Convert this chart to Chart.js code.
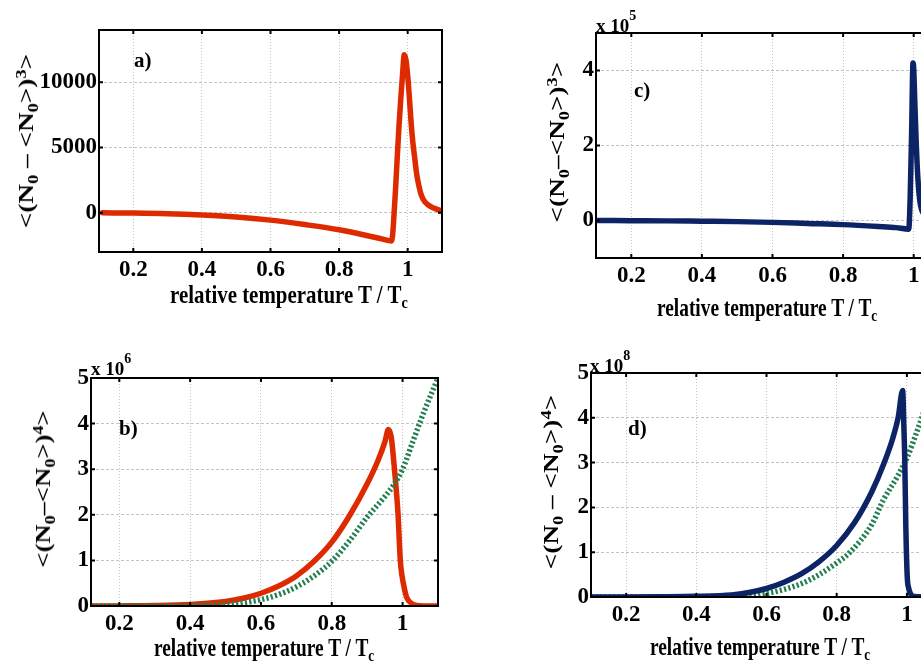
<!DOCTYPE html>
<html>
<head>
<meta charset="utf-8">
<script src="https://cdn.jsdelivr.net/npm/chart.js@4"></script>
<style>
  html, body { margin: 0; padding: 0; background: #fff; overflow: hidden; }
  #wrap { position: relative; width: 921px; height: 672px; overflow: hidden; }
  canvas { position: absolute; }
  .txt { position: absolute; font-family: "Liberation Serif", "Times New Roman", serif; font-weight: bold; color: #000; white-space: nowrap; line-height: 1; }
  .lbl { font-size: 21px; }
  .xt { font-size: 22px; transform-origin: 0 0; }
  .yt { font-size: 20px; }
  .ex { font-size: 19px; }
  .ex .sp { font-size: 14px; position: relative; top: -12px; }
  .sb { font-size: 0.68em; position: relative; top: 0.35em; }
  .su { font-size: 0.68em; position: relative; top: -0.55em; }
</style>
</head>
<body>
<div id="wrap">
  <canvas id="chartA" width="460" height="330" style="left:0;top:0"></canvas>
  <canvas id="chartC" width="500" height="330" style="left:460px;top:0"></canvas>
  <canvas id="chartB" width="460" height="342" style="left:0;top:330px"></canvas>
  <canvas id="chartD" width="500" height="342" style="left:460px;top:330px"></canvas>

  <div class="txt lbl" style="left:134px;top:50px">a)</div>
  <div class="txt lbl" style="left:634px;top:80px">c)</div>
  <div class="txt lbl" style="left:119px;top:418px">b)</div>
  <div class="txt lbl" style="left:628px;top:418px">d)</div>

  <div class="txt ex" style="left:596px;top:16px">x 10<span class="sp">5</span></div>
  <div class="txt ex" style="left:91px;top:359px">x 10<span class="sp">6</span></div>
  <div class="txt ex" style="left:590px;top:356px">x 10<span class="sp">8</span></div>

  <div class="txt xt" style="left:170px;top:283px;transform:scale(0.95,1.1)">relative temperature T / T<span class="sb">c</span></div>
  <div class="txt xt" style="left:657px;top:296px;transform:scale(0.88,1.1)">relative temperature T / T<span class="sb">c</span></div>
  <div class="txt xt" style="left:154px;top:636px;transform:scale(0.88,1.1)">relative temperature T / T<span class="sb">c</span></div>
  <div class="txt xt" style="left:650px;top:635px;transform:scale(0.88,1.1)">relative temperature T / T<span class="sb">c</span></div>

  <div class="txt yt" style="left:26px;top:141px;transform:translate(-50%,-50%) rotate(-90deg) scaleX(1.36)">&lt;(N<span class="sb">0</span> &ndash; &lt;N<span class="sb">0</span>&gt;)<span class="su">3</span>&gt;</div>
  <div class="txt yt" style="left:557px;top:142px;transform:translate(-50%,-50%) rotate(-90deg) scaleX(1.36)">&lt;(N<span class="sb">0</span>&ndash;&lt;N<span class="sb">0</span>&gt;)<span class="su">3</span>&gt;</div>
  <div class="txt yt" style="left:43px;top:489px;transform:translate(-50%,-50%) rotate(-90deg) scaleX(1.33)">&lt;(N<span class="sb">0</span>&ndash;&lt;N<span class="sb">0</span>&gt;)<span class="su">4</span>&gt;</div>
  <div class="txt yt" style="left:551px;top:482px;transform:translate(-50%,-50%) rotate(-90deg) scaleX(1.36)">&lt;(N<span class="sb">0</span> &ndash; &lt;N<span class="sb">0</span>&gt;)<span class="su">4</span>&gt;</div>
</div>

<script>
// a) third central moment, small trap
const tA = [0.11, 0.2, 0.3, 0.4, 0.5, 0.6, 0.7, 0.8, 0.9, 0.93, 0.945, 0.952, 0.956, 0.96, 0.965, 0.97, 0.975, 0.98, 0.985, 0.99, 0.995, 1.0, 1.005, 1.01, 1.015, 1.02, 1.025, 1.03, 1.035, 1.04, 1.045, 1.05, 1.06, 1.07, 1.08, 1.09, 1.1];
const cubeA = [0, -20, -70, -170, -320, -560, -900, -1300, -1850, -2030, -2130, -2150, -1700, -200, 2000, 4500, 6800, 8800, 10600, 12100, 11700, 10500, 8800, 6900, 5400, 4300, 3200, 2400, 1800, 1330, 1050, 850, 600, 440, 320, 230, 160];

// c) third central moment (x 10^5)
const tC = [0.1, 0.2, 0.3, 0.4, 0.5, 0.6, 0.7, 0.8, 0.9, 0.95, 0.986, 0.99, 0.994, 0.998, 1.0, 1.003, 1.007, 1.012, 1.017, 1.022, 1.03, 1.05, 1.1];
const cubeC = [0, -0.005, -0.01, -0.02, -0.03, -0.05, -0.08, -0.11, -0.16, -0.19, -0.23, 0.6, 2.3, 4.2, 4.05, 3.2, 2.1, 1.1, 0.55, 0.3, 0.15, 0.05, 0.01];

// b) fourth central moment (x 10^6)
const tB = [0.12, 0.2, 0.3, 0.4, 0.5, 0.55, 0.6, 0.65, 0.7, 0.75, 0.8, 0.85, 0.9, 0.93, 0.95, 0.96, 0.968, 0.977, 0.987, 0.9935, 0.998, 1.006, 1.012, 1.025, 1.04, 1.06, 1.1];
const quartB = [0, 0.002, 0.01, 0.035, 0.1, 0.17, 0.28, 0.44, 0.66, 0.98, 1.4, 1.98, 2.68, 3.18, 3.6, 3.87, 3.7, 3.0, 2.03, 1.0, 0.68, 0.35, 0.18, 0.06, 0.01, 0, 0];
const tBref = [0.12, 0.3, 0.4, 0.5, 0.55, 0.6, 0.65, 0.7, 0.75, 0.8, 0.85, 0.9, 0.95, 0.977, 1.0, 1.03, 1.06, 1.1];
const refB = [0, 0.001, 0.008, 0.035, 0.07, 0.14, 0.25, 0.42, 0.66, 0.98, 1.43, 1.95, 2.4, 2.68, 3.0, 3.63, 4.25, 5.0];

// d) fourth central moment (x 10^8)
const tD = [0.1, 0.2, 0.3, 0.4, 0.5, 0.55, 0.6, 0.65, 0.7, 0.75, 0.8, 0.85, 0.9, 0.933, 0.96, 0.975, 0.988, 0.991, 0.994, 0.997, 1.001, 1.005, 1.01, 1.02, 1.05, 1.1];
const quartD = [0, 0.001, 0.005, 0.015, 0.045, 0.1, 0.19, 0.33, 0.52, 0.79, 1.15, 1.65, 2.35, 2.95, 3.55, 4.0, 4.61, 3.9, 3.05, 1.56, 0.45, 0.2, 0.08, 0.01, 0, 0];
const tDref = [0.1, 0.3, 0.4, 0.5, 0.55, 0.6, 0.65, 0.7, 0.75, 0.8, 0.838, 0.9, 0.9325, 0.97, 1.0, 1.028, 1.06, 1.1];
const refD = [0, 0.001, 0.006, 0.025, 0.045, 0.08, 0.17, 0.3, 0.5, 0.76, 1.0, 1.62, 2.16, 2.65, 3.1, 3.68, 4.4, 5.3];

const xTicks = [0.2, 0.4, 0.6, 0.8, 1];
const yTicksA = [0, 5000, 10000];
const yTicksC = [0, 2, 4];
const yTicksBD = [0, 1, 2, 3, 4, 5];

const red = 'rgb(221, 42, 0)';
const navy = 'rgb(12, 35, 102)';
const green = 'rgb(36, 128, 80)';
const tickFont = { family: 'Liberation Serif', size: 23, weight: 'bold' };

function pts(xs, ys) {
    return xs.map((x, i) => ({ x: x, y: ys[i] }));
}

// box around the axes + small inward tick marks, like matlab
const framePlugin = {
    id: 'frame',
    afterDraw(chart) {
        const ctx = chart.ctx;
        const a = chart.chartArea;
        const xs = chart.scales.x, ys = chart.scales.y;
        ctx.save();
        ctx.strokeStyle = '#000';
        ctx.lineWidth = 2;
        ctx.setLineDash([]);
        ctx.strokeRect(a.left, a.top, a.right - a.left, a.bottom - a.top);
        ctx.beginPath();
        xs.ticks.forEach(t => {
            const p = xs.getPixelForValue(t.value);
            ctx.moveTo(p, a.bottom); ctx.lineTo(p, a.bottom - 4);
            ctx.moveTo(p, a.top); ctx.lineTo(p, a.top + 4);
        });
        ys.ticks.forEach(t => {
            const p = ys.getPixelForValue(t.value);
            ctx.moveTo(a.left, p); ctx.lineTo(a.left + 4, p);
            ctx.moveTo(a.right, p); ctx.lineTo(a.right - 4, p);
        });
        ctx.stroke();
        ctx.restore();
    }
};

function makeChart(id, datasets, o) {
    return new Chart(document.getElementById(id), {
        type: 'line',
        data: { datasets: datasets },
        options: {
            responsive: false,
            animation: false,
            devicePixelRatio: 1,
            layout: { padding: { left: 0, top: o.top, right: o.right, bottom: 0 } },
            plugins: { legend: { display: false }, tooltip: { enabled: false } },
            elements: { point: { radius: 0 } },
            scales: {
                x: {
                    type: 'linear',
                    min: o.xmin, max: 1.1,
                    afterBuildTicks: s => { s.ticks = xTicks.map(v => ({ value: v })); },
                    afterFit: s => { s.height = o.xh; },
                    grid: { color: '#c4c4c4', lineWidth: 1, drawTicks: false },
                    border: { display: false, dash: [1, 2] },
                    ticks: { font: tickFont, color: '#000', padding: 4, maxRotation: 0,
                             callback: v => String(Math.round(v * 100) / 100) }
                },
                y: {
                    type: 'linear',
                    min: o.ymin, max: o.ymax,
                    afterBuildTicks: s => { s.ticks = o.yticks.map(v => ({ value: v })); },
                    afterFit: s => { s.width = o.yw; },
                    grid: { color: '#c4c4c4', lineWidth: 1, drawTicks: false },
                    border: { display: false, dash: [3, 2] },
                    ticks: { font: tickFont, color: '#000', padding: 2,
                             callback: v => String(Math.round(v * 100) / 100) }
                }
            }
        },
        plugins: [framePlugin]
    });
}

function solid(xs, ys, color) {
    return { data: pts(xs, ys), borderColor: color, borderWidth: 5.5, fill: false,
             cubicInterpolationMode: 'monotone', borderJoinStyle: 'round', borderCapStyle: 'round' };
}
function dotted(xs, ys) {
    return { data: pts(xs, ys), borderColor: green, borderWidth: 5.5, borderDash: [2.2, 2.2], fill: false,
             cubicInterpolationMode: 'monotone' };
}

makeChart('chartA', [solid(tA, cubeA, red)],
    { xmin: 0.1, ymin: -3000, ymax: 14000, yticks: yTicksA, yw: 99, xh: 78, top: 30, right: 18 });
makeChart('chartC', [solid(tC, cubeC, navy)],
    { xmin: 0.1, ymin: -1, ymax: 5, yticks: yTicksC, yw: 136, xh: 72, top: 33, right: 11 });
makeChart('chartB', [dotted(tBref, refB), solid(tB, quartB, red)],
    { xmin: 0.12, ymin: 0, ymax: 5, yticks: yTicksBD, yw: 91, xh: 66, top: 48, right: 22 });
makeChart('chartD', [solid(tD, quartD, navy), dotted(tDref, refD)],
    { xmin: 0.1, ymin: 0, ymax: 5, yticks: yTicksBD, yw: 131, xh: 75, top: 43, right: 18 });
</script>
</body>
</html>
